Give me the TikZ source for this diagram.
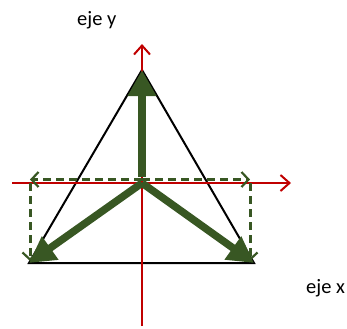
\documentclass[tikz,border=0pt]{standalone}
\usepackage{fontspec}
\setmainfont{Carlito}
\usetikzlibrary{arrows.meta}
\definecolor{axisred}{RGB}{192,0,0}
\definecolor{vecgreen}{RGB}{56,87,35}
\tikzset{
  axisline/.style={draw=axisred, line width=2bp, -{Straight Barb[length=9bp,width=16bp,line width=2bp]}},
  triline/.style={draw=black, line width=2bp, line join=miter},
  bigvec/.style={draw=vecgreen, line width=7.5bp, -{Triangle[length=26bp,width=27bp]}},
  compvec/.style={draw=vecgreen, line width=3bp, dash pattern=on 8bp off 5bp},
  comptip/.style={-{Straight Barb[length=7bp,width=15bp,line width=2.2bp]}},
  lbl/.style={font=\fontsize{20.5}{24}\selectfont, anchor=base west, inner sep=0pt}
}
\begin{document}
\begin{tikzpicture}[x=1bp,y=-1bp]
\useasboundingbox (0,0) rectangle (347,329);
% key points
\coordinate (O) at (142,183);
\coordinate (top) at (142,70);
\coordinate (bl) at (29,263);
\coordinate (br) at (254,263);
\coordinate (xs) at (12,183);
\coordinate (xe) at (291,183);
\coordinate (ys) at (142,326);
\coordinate (ye) at (142,44);
\coordinate (dl) at (30,179.5);
\coordinate (dr) at (250,179.5);
\coordinate (dlb) at (30,261);
\coordinate (drb) at (250,261);
\coordinate (dlt) at (30,183);
\coordinate (drt) at (250,183);
\coordinate (vs) at (142,177);
% triangle
\draw[triline] (top) -- (bl) -- (br) -- cycle;
% axes
\draw[axisline] (xs) -- (xe);
\draw[axisline] (ys) -- (ye);
% dashed components
\draw[compvec, comptip] (142,179.5) -- (dl);
\draw[compvec, comptip] (142,179.5) -- (dr);
\draw[compvec, comptip] (dlt) -- (dlb);
\draw[compvec, comptip] (drt) -- (drb);
% main vectors
\draw[bigvec] (vs) -- (top);
\draw[bigvec] (O) -- (bl);
\draw[bigvec] (O) -- (br);
% labels
\node[lbl] (ly) at (77,25) {eje y};
\node[lbl] (lx) at (306,293) {eje x};
\end{tikzpicture}
\end{document}
